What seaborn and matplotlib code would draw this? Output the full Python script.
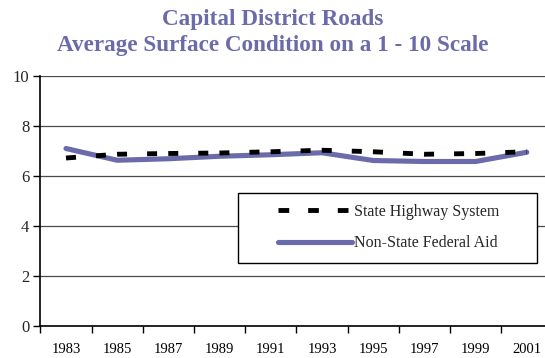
import matplotlib
matplotlib.use("Agg")
import matplotlib.pyplot as plt
from matplotlib.patches import Rectangle
import seaborn as sns
import pandas as pd

# Survey years and average surface condition ratings (1-10 scale)
years = ["1983", "1985", "1987", "1989", "1991", "1993", "1995", "1997", "1999", "2001"]
state_highway = [6.72, 6.87, 6.90, 6.92, 6.97, 7.03, 6.97, 6.87, 6.90, 6.97]
non_state_fed_aid = [7.10, 6.63, 6.69, 6.79, 6.85, 6.93, 6.62, 6.58, 6.58, 6.95]
series_names = ["State Highway System", "Non-State Federal Aid"]
y_ticks = [0, 2, 4, 6, 8, 10]

title_color = "#6B6BAA"
line_color = "#6B6BAB"

sns.set_theme(style="white")
plt.rcParams["font.family"] = ["Liberation Serif", "DejaVu Serif"]

df = pd.DataFrame({
    "pos": list(range(len(years))) * 2,
    "value": state_highway + non_state_fed_aid,
    "series": [series_names[0]] * len(years) + [series_names[1]] * len(years),
})

W, H = 545, 358
x0_px, x1_px = 40.4, 552.4      # axes extent in figure pixels
y0_px, y1_px = 326, 76

fig = plt.figure(figsize=(W / 100, H / 100), dpi=100)
ax = fig.add_axes([x0_px / W, 1 - y0_px / H, (x1_px - x0_px) / W, (y0_px - y1_px) / H])

LW = 3.5
sns.lineplot(
    data=df, x="pos", y="value", hue="series", style="series",
    palette={series_names[0]: "black", series_names[1]: line_color},
    dashes={series_names[0]: (2.06, 4.12, 2.06, 2.29), series_names[1]: ""},
    sort=False, ax=ax, legend=True,
)

for ln in ax.get_lines():
    ln.set_linewidth(LW)
    if ln.get_color() == "black":
        ln.set_dash_capstyle("butt")
        ln.set_zorder(3)
    else:
        ln.set_linewidth(3.7)
        ln.set_solid_capstyle("round")
        ln.set_solid_joinstyle("round")
        ln.set_zorder(2)

ax.set_xlim(-0.5, len(years) - 0.5)
ax.set_ylim(0, 10)
ax.set_xticks(range(len(years)))
ax.set_xticklabels(years)
ax.set_xticks([i - 0.5 for i in range(len(years) + 1)], minor=True)
ax.set_yticks(y_ticks)
ax.set_yticklabels([str(v) for v in y_ticks])
ax.set_xlabel("")
ax.set_ylabel("")

ax.tick_params(axis="x", which="major", length=0, pad=12, labelsize=10.5, colors="black")
ax.tick_params(axis="x", which="minor", length=5, width=1, direction="out", color="black", bottom=True)
ax.tick_params(axis="y", length=5, width=1, direction="out", color="black", left=True,
               labelsize=12, pad=3)

ax.grid(axis="y", color="#4a4a4a", linewidth=0.9)
ax.set_axisbelow(True)
for side in ["top", "right"]:
    ax.spines[side].set_visible(False)
for side in ["left", "bottom"]:
    ax.spines[side].set_color("black")
    ax.spines[side].set_linewidth(1.2)


def ax_x(px):
    return (px - x0_px) / (x1_px - x0_px)


def ax_y(px):
    return (y0_px - px) / (y0_px - y1_px)


# Legend box drawn as a plain white rectangle with a black edge
box = Rectangle((ax_x(238), ax_y(263)), ax_x(537) - ax_x(238), ax_y(193) - ax_y(263),
                transform=ax.transAxes, facecolor="white", edgecolor="black",
                linewidth=1.0, zorder=4, clip_on=False)
ax.add_patch(box)

handles, labels = ax.get_legend_handles_labels()
leg = ax.legend(
    handles, labels, loc="upper left",
    bbox_to_anchor=(ax_x(278), ax_y(203.5)),
    frameon=False, fontsize=11.5, handlelength=4.65,
    handletextpad=0.1, labelspacing=0.98, borderpad=0, borderaxespad=0,
)
leg.set_zorder(5)
for ln in leg.get_lines():
    if ln.get_color() == "black":
        ln.set_linewidth(LW)
        ln.set_dashes((2.2, 3.9))
        ln.set_dash_capstyle("butt")
    else:
        ln.set_linewidth(3.7)
        ln.set_solid_capstyle("round")

fig.text(0.5, 1 - 19 / H, "Capital District Roads", ha="center", va="center",
         fontsize=16.7, fontweight="bold", color=title_color)
fig.text(0.5, 1 - 45 / H, "Average Surface Condition on a 1 - 10 Scale", ha="center",
         va="center", fontsize=16.7, fontweight="bold", color=title_color)

fig.savefig("out.png", dpi=100)
